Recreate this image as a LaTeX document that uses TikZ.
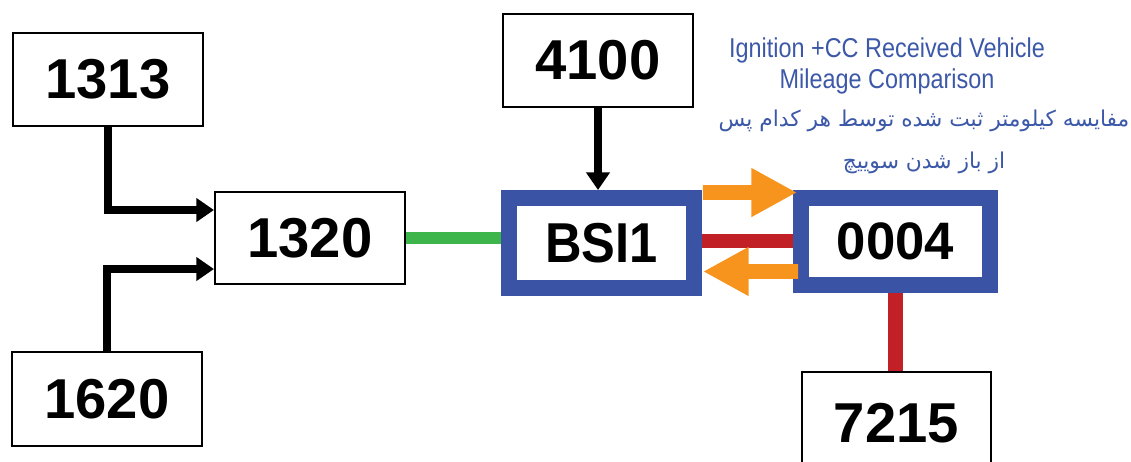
\documentclass[tikz,border=0pt]{standalone}
\usepackage{fontspec}
\setmainfont{Liberation Sans}
\newfontfamily\condfont[FakeStretch=0.86]{Liberation Sans}
\newfontfamily\arabicfont[Script=Arabic]{DejaVu Sans}
\TeXXeTstate=1
\usetikzlibrary{arrows.meta,calc}
\definecolor{ecublue}{RGB}{58,83,164}
\definecolor{notecol}{RGB}{60,88,168}
\definecolor{busgreen}{RGB}{61,181,74}
\definecolor{busred}{RGB}{193,32,38}
\definecolor{flowor}{RGB}{247,148,29}

\begin{document}
\begin{tikzpicture}[x=0.02cm, y=-0.02cm,
    unit/.style={rectangle, draw, line width=1.2pt, fill=white, minimum width=3.8cm, minimum height=1.86cm, inner sep=0pt, font=\fontsize{32}{36}\selectfont\bfseries},
    ecu/.style={rectangle, draw=ecublue, line width=0.32cm, fill=white, inner sep=0pt, font=\fontsize{32}{36}\selectfont\bfseries},
    feed/.style={-{Triangle[length=10pt, width=13pt]}, line width=5pt},
    bus/.style={draw=#1, line width=8pt},
    flow/.style={-{Triangle[length=26pt, width=26pt]}, draw=flowor, line width=8.5pt},
    note/.style={text=notecol, inner sep=0pt, align=center}
]
\clip (0,0) rectangle (1131,461);

% Units and ECUs
\node[unit] (n1313) at (108,79.5) {1313};
\node[unit, minimum height=1.84cm] (n1320) at (310,238) {1320};
\node[unit, minimum height=1.88cm] (n1620) at (107,399) {1620};
\node[unit] (n4100) at (598,60.5) {4100};
\node[ecu, minimum width=3.7cm, minimum height=1.8cm] (bsi) at (601.5,243) {\addfontfeature{FakeStretch=0.9}BSI1};
\node[ecu, minimum width=3.78cm, minimum height=1.74cm, font=\fontsize{30}{34}\selectfont\bfseries] (n0004) at (895.5,241.5) {0004};
\node[unit, minimum width=3.78cm, minimum height=2.06cm] (n7215) at (896.5,423.5) {7215};

% Buses
\draw[bus=busgreen, line width=7pt] (n1320.east) -- (n1320.east -| bsi.west);
\draw[bus=busred] ($(bsi.east)+(0,-2)$) -- ($(bsi.east -| n0004.west)+(0,-2)$);
\draw[bus=busred, line width=9pt] (n0004.south) -- (n0004.south |- n7215.north);

% Inputs
\draw[feed] (n1313.south) |- ($(n1320.west)+(0,-28)$);
\draw[feed] (n1620.north) |- ($(n1320.west)+(0,31)$);
\draw[feed, line width=4pt] (n4100.south) -- (n4100.south |- bsi.north);

% Mileage exchange
\draw[flow] ($(bsi.north east)+(1,2.5)$) -- ($(n0004.north west)+(4,2.5)$);
\draw[flow] ($(n0004.south west)+(5,-21.5)$) -- ($(bsi.south east)+(1,-24.5)$);

% Notes
\node[note, anchor=north, font=\condfont\fontsize{15.5}{17.6}\selectfont] (eng) at (887,37) {Ignition +CC Received Vehicle\\Mileage Comparison};
\node[note, anchor=north, font=\arabicfont\fontsize{12.4}{23.5}\selectfont] (fa) at (924,110) {\beginR مفایسه کیلومتر ثبت شده توسط هر کدام پس\endR\\\beginR از باز شدن سوییچ\endR};
\end{tikzpicture}
\end{document}
